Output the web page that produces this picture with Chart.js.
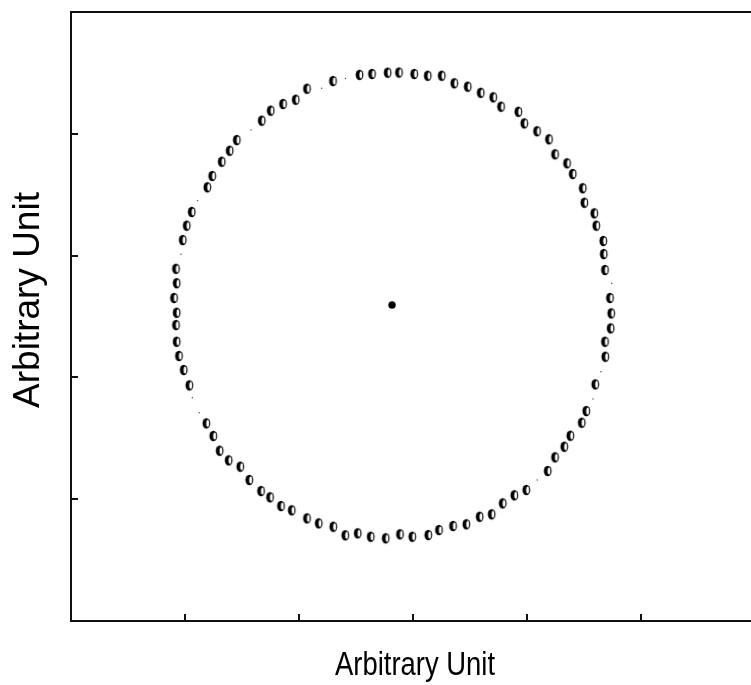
<!DOCTYPE html>
<html>
<head>
<meta charset="utf-8">
<script src="https://cdn.jsdelivr.net/npm/chart.js@4.4.0/dist/chart.umd.min.js"></script>
<style>
  html, body { margin: 0; padding: 0; background: #fff; }
  canvas { display: block; }
</style>
</head>
<body>
<canvas id="ring" width="751" height="685"></canvas>
<script>
// ring positions (arbitrary units)
const ringX = [2.877,2.778,2.640,2.531,2.298,2.070,1.971,1.860,1.752,1.673,1.454,1.392,1.322,1.239,1.196,1.059,1.015,0.980,
  0.921,0.927,0.904,0.927,0.921,0.927,0.947,0.989,1.038,1.187,1.248,1.304,1.383,1.485,1.564,1.667,1.746,1.842,1.936,
  2.070,2.173,2.301,2.406,2.515,2.629,2.761,2.886,2.994,3.134,3.228,3.351,3.468,3.585,3.690,3.787,3.889,3.994,4.182,
  4.246,4.327,4.380,4.480,4.520,4.599,4.687,4.684,4.734,4.739,4.728,4.684,4.673,4.669,4.608,4.590,4.503,4.489,4.401,
  4.351,4.246,4.193,4.088,3.976,3.924,3.772,3.704,3.594,3.480,3.362,3.252,3.129,3.011];
const ringY = [4.503,4.502,4.491,4.484,4.433,4.370,4.280,4.245,4.190,4.108,3.949,3.861,3.771,3.654,3.561,3.358,3.246,3.128,
  2.892,2.773,2.652,2.531,2.430,2.293,2.176,2.061,1.935,1.623,1.519,1.398,1.319,1.267,1.158,1.067,1.016,0.944,0.909,
  0.843,0.802,0.774,0.704,0.720,0.692,0.679,0.712,0.692,0.706,0.747,0.780,0.794,0.856,0.876,0.966,1.032,1.076,1.232,
  1.344,1.431,1.521,1.628,1.724,1.943,2.170,2.293,2.403,2.526,2.652,2.882,3.013,3.120,3.246,3.347,3.434,3.553,3.670,
  3.758,3.832,3.955,4.021,4.086,4.181,4.223,4.300,4.337,4.387,4.415,4.477,4.477,4.491];

// positions where the marker is almost invisible (tiny dots)
const gapX = [2.408,2.199,1.579,1.111,0.965,1.064,1.125,4.090,4.579,4.649,4.743];
const gapY = [4.454,4.374,4.031,3.451,3.011,1.833,1.710,1.158,1.823,2.047,2.773];

// centre point
const centerX = [2.816];
const centerY = [2.594];

// axis ticks (no labels)
const xTicks = [1, 2, 3, 4, 5];
const yTicks = [1, 2, 3, 4];
const axisTitle = "Arbitrary Unit";

const toPoints = (xs, ys) => xs.map((x, i) => ({ x: x, y: ys[i] }));

// black ellipse with a white sliver on the right
function makeMarker() {
  const c = document.createElement("canvas");
  c.width = 11; c.height = 14;
  const g = c.getContext("2d");
  g.beginPath();
  g.ellipse(5.5, 7, 3.9, 5.3, 0, 0, 2 * Math.PI);
  g.fillStyle = "#000";
  g.fill();
  g.beginPath();
  g.ellipse(6.8, 7, 1.4, 3.5, 0, 0, 2 * Math.PI);
  g.fillStyle = "#fff";
  g.fill();
  return c;
}

//frame, inward ticks and axis titles
const framePlugin = {
  id: "frame",
  afterDraw(chart) {
    const ctx = chart.ctx;
    const a = chart.chartArea;
    const xs = chart.scales.x, ys = chart.scales.y;
    ctx.save();
    ctx.strokeStyle = "#111";
    ctx.lineWidth = 2;
    ctx.beginPath();
    ctx.moveTo(a.right + 5, a.top);
    ctx.lineTo(a.left, a.top);
    ctx.lineTo(a.left, a.bottom);
    ctx.lineTo(a.right + 5, a.bottom);
    ctx.stroke();
    ctx.beginPath();
    xTicks.forEach(v => {
      const px = Math.round(xs.getPixelForValue(v));
      ctx.moveTo(px, a.bottom);
      ctx.lineTo(px, a.bottom - 7);
    });
    yTicks.forEach(v => {
      const py = Math.round(ys.getPixelForValue(v));
      ctx.moveTo(a.left, py);
      ctx.lineTo(a.left + 7, py);
    });
    ctx.stroke();

    ctx.fillStyle = "#000";
    ctx.textAlign = "center";
    ctx.textBaseline = "middle";
    // bottom title, condensed
    ctx.font = "34px 'Liberation Sans', Arial, sans-serif";
    const w = ctx.measureText(axisTitle).width;
    ctx.save();
    ctx.translate(415, 666);
    ctx.scale(160 / w, 1);
    ctx.fillText(axisTitle, 0, 0);
    ctx.restore();
    // left title
    ctx.font = "37px 'Liberation Sans', Arial, sans-serif";
    ctx.save();
    ctx.translate(29, 300);
    ctx.rotate(-Math.PI / 2);
    ctx.fillText(axisTitle, 0, 0);
    ctx.restore();
    ctx.restore();
  }
};

new Chart(document.getElementById("ring"), {
  type: "scatter",
  plugins: [framePlugin],
  data: {
    datasets: [
      {
        data: toPoints(ringX, ringY),
        pointStyle: makeMarker(),
        pointRadius: 6,
      },
      {
        data: toPoints(gapX, gapY),
        pointStyle: "circle",
        pointRadius: 0.7,
        backgroundColor: "#444",
        borderWidth: 0,
      },
      {
        data: toPoints(centerX, centerY),
        pointStyle: "circle",
        pointRadius: 3.5,
        backgroundColor: "#000",
        borderColor: "#000",
        borderWidth: 0.5,
      },
    ],
  },
  options: {
    responsive: false,
    animation: false,
    layout: { autoPadding: false, padding: { left: 71, top: 12, right: 0, bottom: 64 } },
    plugins: { legend: { display: false }, tooltip: { enabled: false } },
    scales: {
      x: { type: "linear", display: false, min: 0, max: 5.965 },
      y: { type: "linear", display: false, min: 0, max: 5 },
    },
  },
});
</script>
</body>
</html>
